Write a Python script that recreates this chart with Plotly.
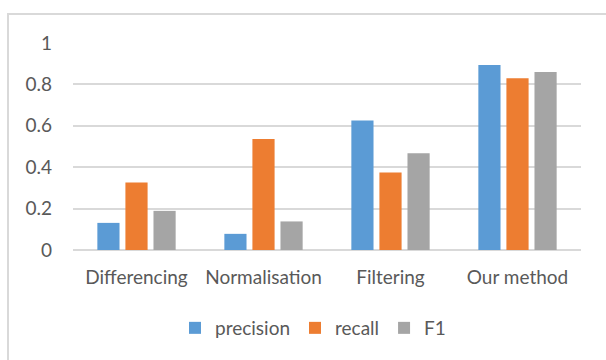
import plotly.graph_objects as go

# Evaluation scores per method
methods = ["Differencing", "Normalisation", "Filtering", "Our method"]
precision = [0.131, 0.078, 0.626, 0.894]
recall = [0.326, 0.536, 0.374, 0.830]
f1 = [0.189, 0.138, 0.467, 0.860]

series = [
    ("precision", precision, "#5b9bd5"),
    ("recall", recall, "#ed7d31"),
    ("F1", f1, "#a5a5a5"),
]

W, H = 606, 360
ML, MR, MT, MB = 73, 25, 43, 110
FONT = "Lato"
TXT = "#595959"
GRID = "#d9d9d9"

fig = go.Figure()
for name, vals, color in series:
    fig.add_trace(go.Bar(
        x=methods, y=vals, name=name,
        marker=dict(color=color, line=dict(width=0)),
    ))

# outer chart frame (runs off the right and bottom edges)
ph = H - MT - MB
pw = W - ML - MR
fx0 = (8 - ML) / pw
fy1 = (H - MB - 14) / ph
fig.add_shape(type="rect", xref="paper", yref="paper",
              x0=fx0, x1=(W + 20 - ML) / pw, y0=-(MB + 20) / ph, y1=fy1,
              line=dict(color=GRID, width=2), fillcolor="rgba(0,0,0,0)",
              layer="below")

fig.update_layout(
    width=W, height=H,
    margin=dict(l=ML, r=MR, t=MT, b=MB),
    paper_bgcolor="white", plot_bgcolor="white",
    barmode="group", bargap=0.337, bargroupgap=0.21,
    font=dict(family=FONT, size=19, color=TXT),
    showlegend=True,
    legend=dict(orientation="h", x=(313 - ML) / pw, xanchor="center",
                y=(H - MB - 328) / ph, yanchor="middle",
                font=dict(family=FONT, size=19, color=TXT),
                itemclick=False, bgcolor="rgba(0,0,0,0)"),
)
fig.update_yaxes(range=[0, 1], dtick=0.2, showgrid=True, gridcolor=GRID,
                 gridwidth=2, zeroline=True, zerolinecolor=GRID, zerolinewidth=2,
                 showline=False, ticks="", ticklabelstandoff=20,
                 tickfont=dict(family=FONT, size=19, color=TXT))
fig.update_xaxes(showline=False, showgrid=False, ticks="", ticklabelstandoff=14,
                 tickfont=dict(family=FONT, size=19, color=TXT))

fig.write_html("out.html")
